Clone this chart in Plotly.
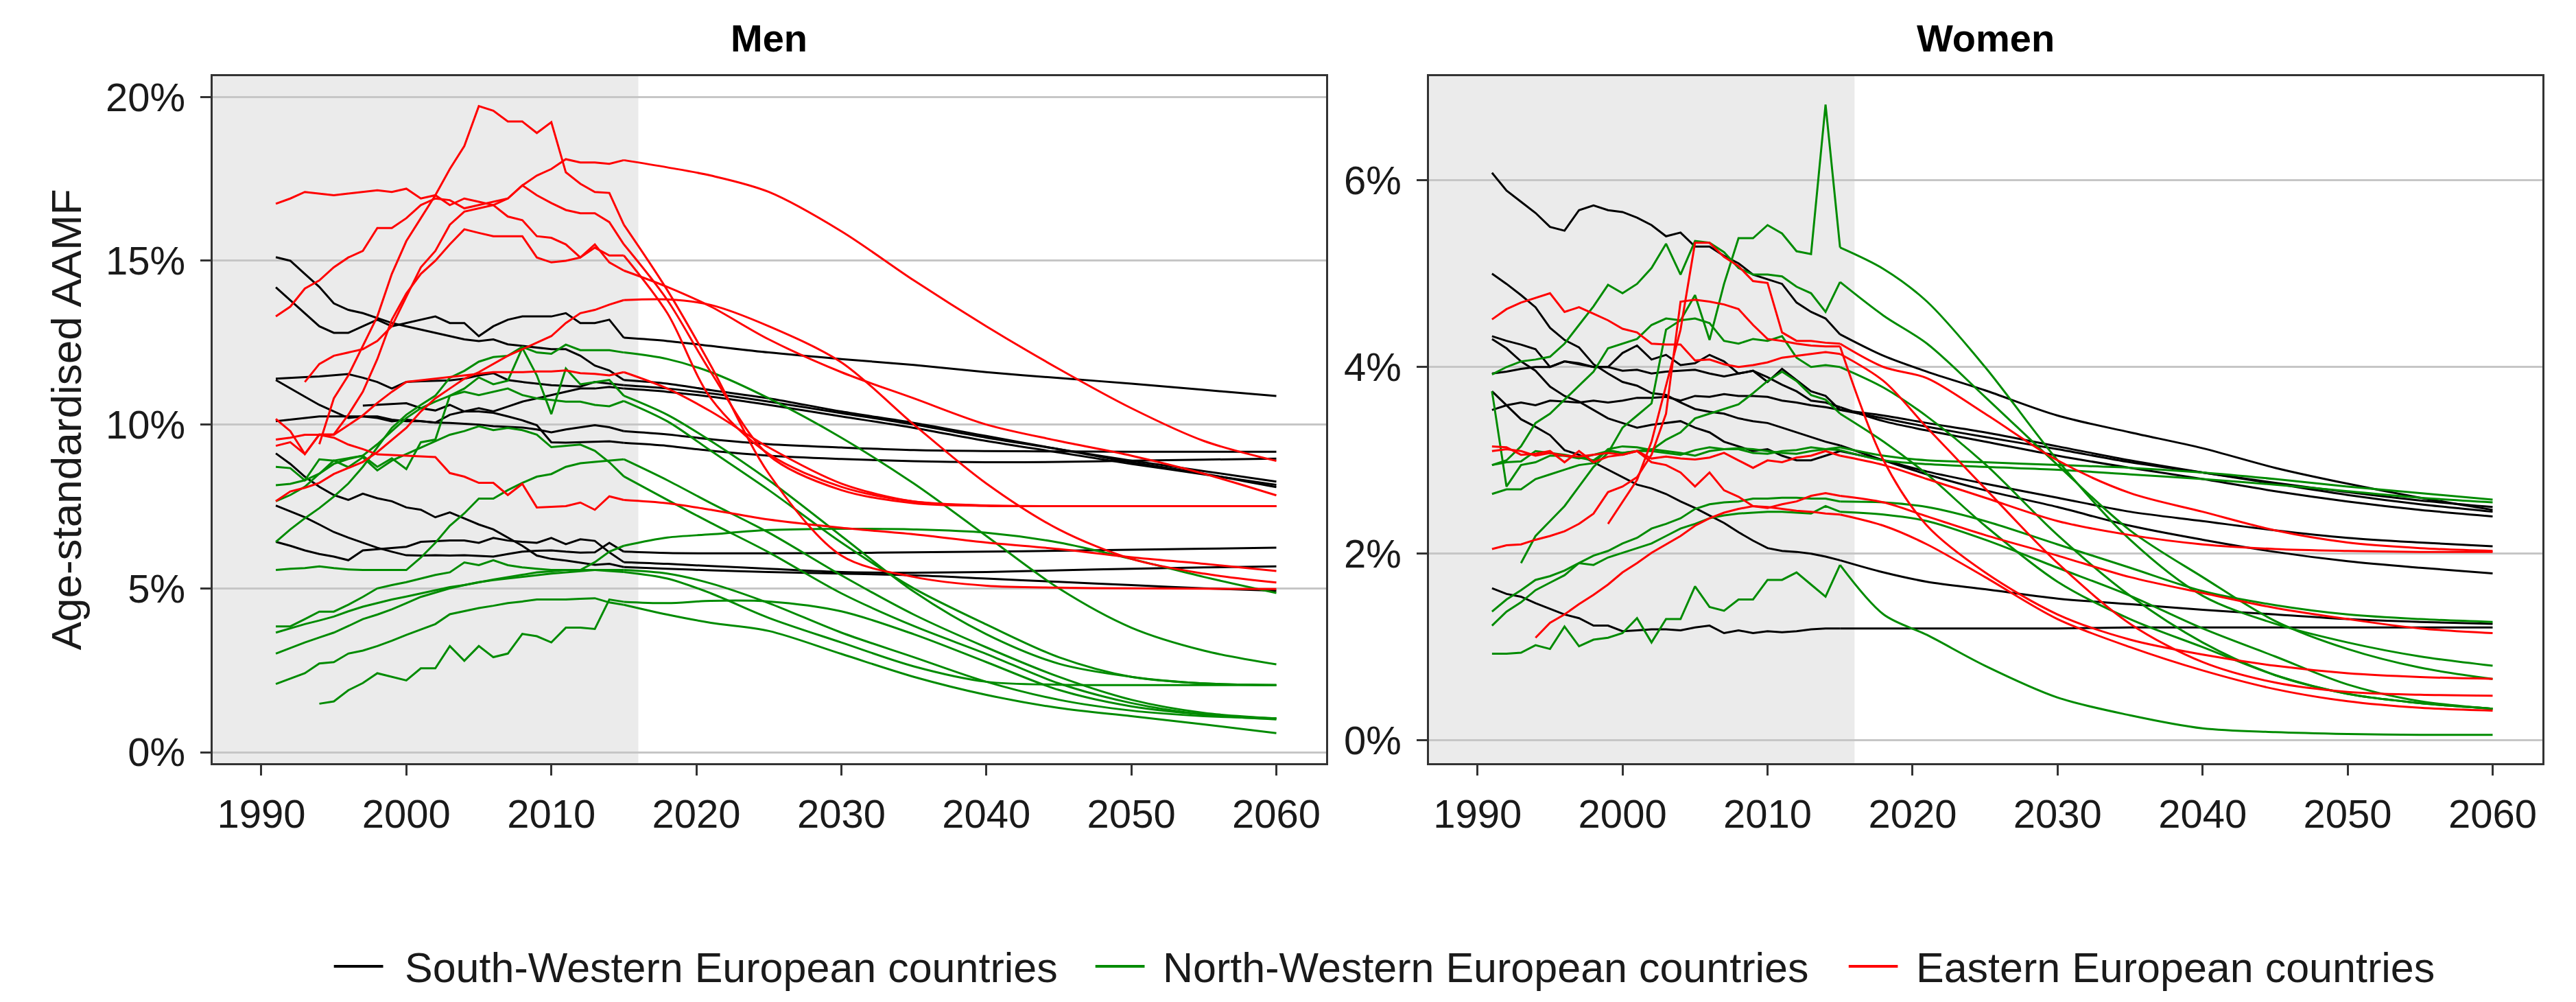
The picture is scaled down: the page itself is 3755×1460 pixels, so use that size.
import plotly.graph_objects as go

# ---------------- axes / categories ----------------
HIST_YEARS = list(range(1991, 2016))          # observed (shaded) period
PROJ_YEARS = [2018, 2021, 2025, 2030, 2035, 2040, 2045, 2050, 2055, 2060]  # projection
X_TICKS = [1990, 2000, 2010, 2020, 2030, 2040, 2050, 2060]
MEN_Y_TICKS = [0, 5, 10, 15, 20]
MEN_Y_LABELS = ["0%", "5%", "10%", "15%", "20%"]
WOMEN_Y_TICKS = [0, 2, 4, 6]
WOMEN_Y_LABELS = ["0%", "2%", "4%", "6%"]
GROUP_NAMES = ["South-Western European countries", "North-Western European countries", "Eastern European countries"]
PANEL_TITLES = ["Men", "Women"]
Y_TITLE = "Age-standardised AAMF"
N = None

# ---------------- MEN (values in %) : 25 observed values (1991-2015) + 10 projected ----------------
M_SW1 = [14.19, 13.8, 13.4, 13.0, 12.8, 12.8, 13.0, 13.2, 13.0, 13.1, 13.2, 13.3, 13.1, 13.1, 12.7, 13.0, 13.2, 13.3, 13.3, 13.3, 13.4, 13.1, 13.1, 13.2, 12.65,
         12.55, 12.4, 12.2, 12.0, 11.82, 11.6, 11.42, 11.25, 11.06, 10.87]
M_SW2 = [15.11, 15.0, 14.6, 14.2, 13.7, 13.5, 13.4, 13.25, 13.1, 13.0, 12.9, 12.8, 12.7, 12.6, 12.55, 12.6, 12.45, 12.4, 12.35, 12.3, 12.3, 12.1, 11.8, 11.65, 11.36,
         11.25, 11.05, 10.8, 10.4, 10.05, 9.65, 9.25, 8.85, 8.5, 8.09]
M_SW3 = [11.4, 11.43, 11.45, 11.47, 11.5, 11.54, 11.43, 11.3, 11.1, 11.3, 11.32, 11.33, 11.35, 11.4, 11.5, 11.57, 11.36, 11.3, 11.25, 11.2, 11.18, 11.16, 11.3, 11.25, 11.2,
         11.1, 10.95, 10.7, 10.35, 10.0, 9.6, 9.25, 8.9, 8.58, 8.26]
M_SW4 = [N, N, N, N, N, N, 10.58, 10.6, 10.62, 10.65, 10.5, 10.43, 10.6, 10.4, 10.5, 10.4, 10.55, 10.7, 10.8, 10.9, 11.0, 11.1, 11.1, 11.15, 11.1,
         11.0, 10.85, 10.6, 10.25, 9.9, 9.5, 9.15, 8.8, 8.48, 8.16]
M_SW5 = [11.36, 11.1, 10.85, 10.6, 10.4, 10.2, 10.25, 10.25, 10.15, 10.1, 10.1, 10.06, 10.05, 10.02, 10.0, 9.95, 9.93, 9.91, 9.85, 9.76, 9.85, 9.91, 9.98, 9.92, 9.8,
         9.7, 9.55, 9.4, 9.3, 9.22, 9.19, 9.18, 9.17, 9.17, 9.17]
M_SW6 = [10.1, 10.15, 10.2, 10.25, 10.25, 10.25, 10.25, 10.2, 10.1, 10.15, 10.1, 10.06, 10.3, 10.4, 10.4, 10.36, 10.25, 10.13, 9.98, 9.46, 9.45, 9.46, 9.48, 9.49, 9.44,
         9.35, 9.2, 9.05, 8.95, 8.88, 8.85, 8.86, 8.9, 8.93, 8.96]
M_SW7 = [9.12, 8.8, 8.41, 8.1, 7.85, 7.7, 7.89, 7.75, 7.66, 7.47, 7.4, 7.17, 7.32, 7.14, 6.95, 6.8, 6.55, 6.3, 6.0, 5.9, 5.85, 5.79, 5.72, 5.75, 5.65,
         5.6, 5.55, 5.5, 5.45, 5.4, 5.3, 5.2, 5.1, 5.0, 4.93]
M_SW8 = [7.53, 7.35, 7.17, 6.95, 6.72, 6.55, 6.39, 6.24, 6.12, 6.01, 6.0, 6.01, 6.0, 6.01, 5.99, 5.97, 6.05, 6.12, 6.15, 6.16, 6.12, 6.09, 6.1, 6.39, 6.12,
         6.08, 6.07, 6.07, 6.08, 6.1, 6.12, 6.15, 6.18, 6.21, 6.24]
M_SW9 = [6.42, 6.3, 6.16, 6.05, 5.97, 5.86, 6.16, 6.2, 6.24, 6.27, 6.42, 6.44, 6.46, 6.46, 6.39, 6.54, 6.46, 6.42, 6.39, 6.54, 6.35, 6.5, 6.45, 6.1, 5.8,
         5.75, 5.68, 5.6, 5.5, 5.48, 5.5, 5.55, 5.6, 5.64, 5.67]

M_NW1 = [6.42, 6.8, 7.14, 7.45, 7.8, 8.2, 8.71, 9.3, 9.9, 10.3, 10.6, 10.88, 11.43, 11.64, 11.92, 12.06, 12.1, 12.37, 12.2, 12.16, 12.44, 12.27, 12.27, 12.27, 12.2,
         12.0, 11.6, 10.8, 9.6, 8.2, 6.6, 5.0, 3.8, 3.1, 2.68]
M_NW2 = [8.71, 8.67, 8.3, 8.94, 8.9, 8.97, 9.05, 8.71, 8.97, 8.64, 9.46, 9.54, 10.88, 11.1, 11.44, 11.23, 11.34, 12.34, 11.5, 10.32, 11.71, 11.23, 11.3, 11.36, 10.88,
         10.3, 9.5, 8.3, 6.6, 4.9, 3.6, 2.7, 2.3, 2.1, 2.05]
M_NW3 = [7.66, 7.85, 8.1, 8.5, 8.8, 8.95, 9.05, 9.4, 9.8, 10.2, 10.5, 10.7, 10.88, 11.0, 10.9, 11.0, 11.1, 10.9, 10.8, 10.75, 10.7, 10.7, 10.6, 10.56, 10.72,
         10.1, 9.2, 8.0, 6.4, 5.0, 3.9, 2.9, 2.3, 2.1, 2.05]
M_NW4 = [5.56, 5.6, 5.62, 5.67, 5.62, 5.58, 5.56, 5.56, 5.56, 5.56, 5.94, 6.39, 6.91, 7.29, 7.74, 7.74, 8.0, 8.22, 8.41, 8.49, 8.71, 8.82, 8.86, 8.9, 8.94,
         8.3, 7.6, 6.7, 5.4, 4.2, 3.2, 2.3, 1.6, 1.2, 1.03]
M_NW5 = [8.15, 8.19, 8.3, 8.5, 8.9, 8.7, 9.0, 8.6, 8.9, 9.1, 9.3, 9.5, 9.69, 9.8, 9.95, 9.83, 9.9, 9.83, 9.69, 9.31, 9.35, 9.39, 9.2, 8.85, 8.42,
         7.7, 7.0, 6.1, 4.85, 3.85, 3.0, 2.1, 1.5, 1.15, 1.0]
M_NW6 = [3.84, 3.84, 4.06, 4.29, 4.29, 4.5, 4.74, 5.0, 5.1, 5.19, 5.3, 5.41, 5.49, 5.79, 5.71, 5.86, 5.71, 5.64, 5.6, 5.56, 5.56, 5.56, 5.8, 6.12, 6.3,
         6.55, 6.65, 6.78, 6.82, 6.8, 6.7, 6.4, 5.9, 5.35, 4.86]
M_NW7 = [3.65, 3.78, 3.91, 4.02, 4.14, 4.3, 4.44, 4.55, 4.66, 4.75, 4.85, 4.95, 5.04, 5.1, 5.19, 5.25, 5.3, 5.35, 5.41, 5.45, 5.49, 5.52, 5.56, 5.56, 5.56,
         5.45, 5.15, 4.55, 3.65, 2.9, 2.15, 1.6, 1.27, 1.1, 1.03]
M_NW8 = [3.01, 3.18, 3.35, 3.5, 3.65, 3.85, 4.06, 4.2, 4.36, 4.55, 4.74, 4.87, 5.0, 5.1, 5.19, 5.27, 5.34, 5.42, 5.49, 5.52, 5.56, 5.56, 5.56, 5.53, 5.5,
         5.3, 4.85, 4.1, 3.35, 2.62, 2.15, 2.06, 2.05, 2.05, 2.05]
M_NW9 = [2.08, 2.25, 2.41, 2.71, 2.75, 3.01, 3.1, 3.24, 3.4, 3.58, 3.75, 3.91, 4.21, 4.3, 4.4, 4.47, 4.55, 4.6, 4.66, 4.66, 4.66, 4.68, 4.7, 4.57, 4.5,
         4.2, 3.95, 3.7, 3.0, 2.3, 1.75, 1.35, 1.1, 0.85, 0.58]
M_NW10 = [N, N, N, 1.48, 1.55, 1.89, 2.11, 2.41, 2.3, 2.19, 2.56, 2.56, 3.24, 2.79, 3.24, 2.9, 3.01, 3.61, 3.54, 3.35, 3.8, 3.8, 3.76, 4.66, 4.59,
          4.55, 4.62, 4.6, 4.3, 3.6, 2.75, 1.9, 1.4, 1.15, 1.03]

M_E1 = [16.74, 16.9, 17.1, 17.05, 17.0, 17.05, 17.1, 17.15, 17.1, 17.2, 16.9, 17.0, 16.7, 16.9, 16.8, 16.7, 16.35, 16.24, 15.75, 15.7, 15.5, 15.1, 15.4, 15.16, 15.16,
        13.4, 10.8, 9.1, 8.1, 7.65, 7.53, 7.51, 7.51, 7.51, 7.51]
M_E2 = [13.3, 13.6, 14.15, 14.4, 14.8, 15.1, 15.3, 16.0, 16.0, 16.3, 16.7, 16.9, 16.85, 16.6, 16.7, 16.8, 16.9, 17.3, 17.0, 16.76, 16.55, 16.45, 16.45, 16.18, 15.5,
        13.8, 11.6, 9.06, 8.0, 7.6, 7.52, 7.51, 7.51, 7.51, 7.51]
M_E3 = [N, N, N, 9.4, 10.8, 11.5, 12.4, 13.3, 14.6, 15.6, 16.3, 17.0, 17.8, 18.5, 19.72, 19.58, 19.25, 19.25, 18.9, 19.23, 17.7, 17.35, 17.1, 17.07, 16.1,
        14.1, 11.8, 8.5, 6.0, 5.35, 5.08, 5.02, 5.0, 4.99, 4.98]
M_E4 = [N, N, 11.3, 11.85, 12.1, 12.2, 12.3, 12.55, 13.0, 13.9, 14.8, 15.3, 16.1, 16.5, 16.6, 16.7, 16.9, 17.3, 17.6, 17.8, 18.1, 18.0, 18.0, 17.96, 18.07,
        17.85, 17.6, 17.1, 15.9, 14.4, 13.0, 11.7, 10.5, 9.5, 8.89]
M_E5 = [10.17, 9.8, 9.1, 9.7, 9.7, 10.3, 11.0, 12.0, 13.2, 14.0, 14.6, 15.0, 15.5, 15.96, 15.85, 15.75, 15.75, 15.75, 15.1, 14.95, 15.0, 15.1, 15.5, 14.95, 14.7,
        14.2, 13.6, 12.6, 11.6, 10.8, 10.0, 9.5, 9.05, 8.5, 7.84]
M_E6 = [7.66, 7.96, 8.07, 8.22, 8.49, 8.67, 8.86, 9.16, 9.54, 9.9, 10.4, 10.8, 11.1, 11.4, 11.6, 11.85, 12.1, 12.3, 12.5, 12.7, 13.1, 13.4, 13.5, 13.66, 13.8,
        13.82, 13.65, 13.0, 11.9, 10.0, 8.2, 6.8, 5.9, 5.45, 5.18]
M_E7 = [9.54, 9.6, 9.69, 9.69, 9.69, 9.98, 10.28, 10.66, 11.0, 11.3, 11.35, 11.4, 11.45, 11.5, 11.55, 11.6, 11.6, 11.6, 11.62, 11.62, 11.65, 11.57, 11.55, 11.5, 11.6,
        11.1, 10.4, 9.3, 8.2, 7.65, 7.52, 7.51, 7.51, 7.51, 7.51]
M_E8 = [9.35, 9.46, 9.1, 9.69, 9.6, 9.39, 9.25, 9.09, 9.07, 9.05, 9.03, 9.01, 8.52, 8.41, 8.22, 8.22, 7.85, 8.19, 7.47, 7.49, 7.51, 7.62, 7.4, 7.81, 7.7,
        7.6, 7.4, 7.1, 6.85, 6.65, 6.4, 6.2, 5.95, 5.75, 5.53]

# ---------------- WOMEN (values in %) ----------------
W_SW1 = [6.08, 5.89, 5.77, 5.65, 5.5, 5.46, 5.68, 5.73, 5.68, 5.66, 5.6, 5.52, 5.4, 5.44, 5.29, 5.29, 5.19, 5.11, 4.99, 4.94, 4.89, 4.69, 4.59, 4.52, 4.35,
         4.12, 3.95, 3.75, 3.48, 3.3, 3.13, 2.92, 2.75, 2.6, 2.47]
W_SW2 = [5.0, 4.89, 4.77, 4.64, 4.42, 4.29, 4.21, 4.03, 3.93, 3.84, 3.8, 3.72, 3.7, 3.62, 3.55, 3.52, 3.5, 3.45, 3.42, 3.4, 3.35, 3.3, 3.25, 3.2, 3.16,
         3.0, 2.85, 2.68, 2.5, 2.3, 2.15, 2.02, 1.92, 1.85, 1.79]
W_SW3 = [4.33, 4.28, 4.24, 4.19, 4.0, 4.06, 4.04, 4.0, 4.0, 4.15, 4.23, 4.08, 4.13, 4.02, 4.04, 4.13, 4.06, 3.93, 3.96, 3.84, 3.98, 3.86, 3.74, 3.69, 3.54,
         3.45, 3.36, 3.25, 3.12, 2.98, 2.87, 2.76, 2.66, 2.57, 2.5]
W_SW4 = [4.3, 4.2, 4.06, 3.96, 3.79, 3.69, 3.63, 3.54, 3.45, 3.4, 3.35, 3.38, 3.4, 3.42, 3.35, 3.3, 3.2, 3.15, 3.1, 3.12, 3.05, 3.0, 3.0, 3.05, 3.1,
         3.0, 2.88, 2.75, 2.6, 2.45, 2.35, 2.25, 2.17, 2.12, 2.08]
W_SW5 = [3.93, 3.95, 3.98, 4.0, 4.0, 4.06, 4.03, 4.0, 4.0, 3.96, 3.97, 3.93, 3.95, 3.96, 3.97, 3.93, 3.9, 3.93, 3.96, 3.89, 3.81, 3.74, 3.64, 3.62, 3.57,
         3.42, 3.32, 3.2, 3.05, 2.92, 2.8, 2.67, 2.56, 2.47, 2.4]
W_SW6 = [3.54, 3.59, 3.62, 3.59, 3.64, 3.63, 3.62, 3.64, 3.62, 3.64, 3.67, 3.67, 3.68, 3.64, 3.69, 3.68, 3.71, 3.69, 3.69, 3.68, 3.64, 3.62, 3.59, 3.57, 3.54,
         3.48, 3.4, 3.3, 3.15, 3.0, 2.87, 2.75, 2.63, 2.53, 2.45]
W_SW7 = [3.74, 3.59, 3.44, 3.36, 3.27, 3.11, 3.06, 2.98, 2.9, 2.82, 2.74, 2.7, 2.64, 2.56, 2.49, 2.41, 2.33, 2.23, 2.14, 2.06, 2.03, 2.02, 2.0, 1.97, 1.93,
         1.8, 1.7, 1.62, 1.52, 1.46, 1.4, 1.35, 1.3, 1.27, 1.25]
W_SW8 = [1.63, 1.57, 1.54, 1.47, 1.41, 1.35, 1.31, 1.23, 1.23, 1.17, 1.18, 1.19, 1.19, 1.18, 1.21, 1.23, 1.15, 1.18, 1.15, 1.17, 1.16, 1.17, 1.19, 1.2, 1.2,
         1.2, 1.2, 1.2, 1.2, 1.21, 1.21, 1.21, 1.21, 1.21, 1.21]

W_NW1 = [N, N, 1.9, 2.19, 2.35, 2.51, 2.72, 2.93, 3.08, 3.35, 3.48, 3.61, 4.4, 4.5, 4.77, 4.29, 4.89, 5.38, 5.38, 5.52, 5.43, 5.24, 5.21, 6.81, 5.28,
         5.05, 4.7, 4.0, 3.0, 2.15, 1.55, 1.25, 1.05, 0.9, 0.8]
W_NW2 = [3.92, 4.0, 4.06, 4.08, 4.11, 4.25, 4.45, 4.65, 4.88, 4.79, 4.89, 5.06, 5.32, 4.99, 5.35, 5.33, 5.23, 5.06, 4.99, 4.99, 4.97, 4.86, 4.79, 4.59, 4.91,
         4.55, 4.25, 3.68, 2.95, 2.25, 1.75, 1.28, 0.98, 0.78, 0.66]
W_NW3 = [1.38, 1.51, 1.61, 1.72, 1.76, 1.82, 1.9, 1.98, 2.03, 2.11, 2.17, 2.27, 2.32, 2.38, 2.48, 2.53, 2.55, 2.56, 2.59, 2.59, 2.6, 2.6, 2.59, 2.59, 2.56,
         2.55, 2.5, 2.35, 2.1, 1.85, 1.6, 1.45, 1.35, 1.3, 1.27]
W_NW4 = [1.23, 1.38, 1.48, 1.61, 1.69, 1.77, 1.9, 1.88, 1.96, 2.01, 2.06, 2.11, 2.19, 2.27, 2.32, 2.38, 2.41, 2.43, 2.44, 2.45, 2.45, 2.44, 2.43, 2.51, 2.45,
         2.42, 2.35, 2.15, 1.85, 1.55, 1.2, 0.9, 0.6, 0.42, 0.34]
W_NW5 = [0.93, 0.93, 0.94, 1.02, 0.98, 1.22, 1.01, 1.08, 1.1, 1.15, 1.31, 1.05, 1.3, 1.3, 1.65, 1.43, 1.39, 1.51, 1.51, 1.72, 1.72, 1.8, 1.67, 1.54, 1.88,
         1.35, 1.13, 0.8, 0.46, 0.27, 0.13, 0.09, 0.07, 0.06, 0.06]
W_NW6 = [3.74, 2.72, 2.95, 2.98, 3.05, 3.05, 3.02, 3.06, 3.1, 3.08, 3.1, 3.12, 3.1, 3.08, 3.05, 3.1, 3.12, 3.13, 3.12, 3.1, 3.08, 3.07, 3.1, 3.12, 3.14,
         3.05, 3.0, 2.98, 2.95, 2.92, 2.87, 2.8, 2.72, 2.65, 2.58]
W_NW7 = [2.95, 2.98, 2.99, 3.1, 3.08, 3.06, 3.03, 3.0, 3.11, 3.08, 3.1, 3.1, 3.08, 3.06, 3.11, 3.14, 3.12, 3.12, 3.08, 3.07, 3.1, 3.11, 3.14, 3.12, 3.11,
         3.0, 2.96, 2.93, 2.9, 2.85, 2.8, 2.74, 2.67, 2.6, 2.55]
W_NW8 = [2.95, 3.0, 3.15, 3.4, 3.5, 3.65, 3.8, 3.95, 4.2, 4.25, 4.3, 4.45, 4.52, 4.5, 4.52, 4.47, 4.28, 4.25, 4.3, 4.28, 4.33, 4.1, 4.0, 4.02, 4.0,
         3.78, 3.47, 2.96, 2.2, 1.55, 1.05, 0.7, 0.5, 0.4, 0.34]
W_NW9 = [2.64, 2.69, 2.69, 2.8, 2.85, 2.9, 2.95, 2.97, 3.12, 3.15, 3.14, 3.11, 3.22, 3.3, 3.45, 3.5, 3.55, 3.6, 3.72, 3.85, 3.95, 3.85, 3.7, 3.65, 3.5,
         3.2, 2.85, 2.3, 1.7, 1.3, 1.0, 0.7, 0.5, 0.4, 0.34]

W_E1 = [4.51, 4.62, 4.69, 4.74, 4.79, 4.59, 4.64, 4.57, 4.5, 4.41, 4.37, 4.25, 4.24, 4.24, 4.07, 4.08, 4.03, 4.0, 4.02, 4.05, 4.1, 4.12, 4.14, 4.16, 4.14,
        3.85, 3.35, 2.7, 1.9, 1.25, 0.84, 0.62, 0.52, 0.49, 0.48]
W_E2 = [N, N, N, N, N, N, N, N, 2.32, 2.56, 2.79, 3.2, 3.8, 4.4, 5.33, 5.33, 5.18, 5.08, 4.92, 4.9, 4.37, 4.28, 4.28, 4.26, 4.25,
        4.0, 3.88, 3.5, 3.0, 2.65, 2.45, 2.25, 2.12, 2.06, 2.03]
W_E3 = [2.05, 2.09, 2.1, 2.15, 2.19, 2.24, 2.32, 2.43, 2.66, 2.72, 2.82, 3.06, 3.5, 4.7, 4.72, 4.7, 4.67, 4.62, 4.45, 4.3, 4.28, 4.25, 4.23, 4.22, 4.22,
        3.0, 2.3, 1.8, 1.35, 1.08, 0.92, 0.8, 0.72, 0.68, 0.66]
W_E4 = [3.15, 3.14, 3.06, 3.07, 3.1, 2.98, 3.1, 2.98, 3.04, 3.06, 3.1, 2.98, 2.95, 2.87, 2.72, 2.87, 2.68, 2.61, 2.51, 2.5, 2.48, 2.46, 2.45, 2.43, 2.42,
        2.3, 2.1, 1.75, 1.3, 1.0, 0.75, 0.55, 0.42, 0.35, 0.32]
W_E5 = [3.1, 3.12, 3.1, 3.05, 3.08, 3.05, 3.04, 3.06, 3.08, 3.06, 3.1, 3.02, 3.04, 3.02, 3.01, 3.03, 3.08, 3.0, 2.92, 3.0, 2.98, 3.03, 3.05, 3.1, 3.05,
        2.95, 2.8, 2.6, 2.35, 2.2, 2.1, 2.05, 2.03, 2.02, 2.02]
W_E6 = [N, N, N, 1.1, 1.26, 1.35, 1.46, 1.56, 1.67, 1.8, 1.9, 2.01, 2.1, 2.19, 2.3, 2.38, 2.44, 2.48, 2.51, 2.49, 2.53, 2.56, 2.62, 2.65, 2.62,
        2.55, 2.4, 2.2, 1.98, 1.75, 1.58, 1.42, 1.3, 1.2, 1.15]

MEN_SW = [M_SW1, M_SW2, M_SW3, M_SW4, M_SW5, M_SW6, M_SW7, M_SW8, M_SW9]
MEN_NW = [M_NW1, M_NW2, M_NW3, M_NW4, M_NW5, M_NW6, M_NW7, M_NW8, M_NW9, M_NW10]
MEN_E = [M_E1, M_E2, M_E3, M_E4, M_E5, M_E6, M_E7, M_E8]
WOMEN_SW = [W_SW1, W_SW2, W_SW3, W_SW4, W_SW5, W_SW6, W_SW7, W_SW8]
WOMEN_NW = [W_NW1, W_NW2, W_NW3, W_NW4, W_NW5, W_NW6, W_NW7, W_NW8, W_NW9]
WOMEN_E = [W_E1, W_E2, W_E3, W_E4, W_E5, W_E6]

# ---------------- styling ----------------
COLORS = ["#000000", "#008B00", "#FF0000"]
FONT = "Liberation Sans, Arial, Helvetica, sans-serif"
W, H = 3755, 1460
X_RANGE = [1986.63, 2063.43]
SHADE_END = 2016
X1_DOM = [301.7 / W, 1925 / W]
X2_DOM = [2074.5 / W, 3698 / W]
Y_DOM = [(H - 1104) / H, (H - 102.7) / H]
# legend layout (pixel positions of key start, key end, text start)
LEG_KEYS = [(478.7, 550.5, 580.0), (1588.7, 1660.5, 1685.0), (2686.8, 2758.4, 2783.0)]
LEG_Y = 1400

fig = go.Figure()


def add_series(series, gi, xa, ya):
    hist = series[:len(HIST_YEARS)]
    proj = series[len(HIST_YEARS):]
    fig.add_trace(go.Scatter(x=HIST_YEARS, y=hist, mode="lines", line=dict(color=COLORS[gi], width=3),
                             xaxis=xa, yaxis=ya, name=GROUP_NAMES[gi],
                             legendgroup=GROUP_NAMES[gi], showlegend=False,
                             hoverinfo="skip"))
    fig.add_trace(go.Scatter(x=[HIST_YEARS[-1]] + PROJ_YEARS, y=[hist[-1]] + proj, mode="lines",
                             line=dict(color=COLORS[gi], width=3, shape="spline", smoothing=0.9),
                             xaxis=xa, yaxis=ya, name=GROUP_NAMES[gi],
                             legendgroup=GROUP_NAMES[gi], showlegend=False,
                             hoverinfo="skip"))


for gi, group in enumerate([MEN_SW, MEN_NW, MEN_E]):
    for s in group:
        add_series(s, gi, "x", "y")
for gi, group in enumerate([WOMEN_SW, WOMEN_NW, WOMEN_E]):
    for s in group:
        add_series(s, gi, "x2", "y2")

axis_common = dict(showline=True, mirror=True, linecolor="#333333", linewidth=3,
                   ticks="outside", ticklen=15, tickwidth=3, tickcolor="#333333",
                   tickfont=dict(family=FONT, size=58, color="#1a1a1a"),
                   automargin=False, zeroline=False)

fig.update_layout(
    width=W, height=H,
    margin=dict(l=0, r=0, t=0, b=0),
    paper_bgcolor="white", plot_bgcolor="white",
    font=dict(family=FONT, size=58, color="#1a1a1a"),
    showlegend=False,
    xaxis=dict(domain=X1_DOM, range=X_RANGE, tickvals=X_TICKS, showgrid=False,
               anchor="y", ticklabelstandoff=6, **axis_common),
    xaxis2=dict(domain=X2_DOM, range=X_RANGE, tickvals=X_TICKS, showgrid=False,
                anchor="y2", ticklabelstandoff=6, **axis_common),
    yaxis=dict(domain=Y_DOM, range=[-0.335, 20.64], tickmode="array", tickvals=MEN_Y_TICKS,
               ticktext=MEN_Y_LABELS,
               showgrid=True, gridcolor="#C6C6C6", gridwidth=3, anchor="x",
               ticklabelstandoff=10,
               title=dict(text=Y_TITLE, font=dict(family=FONT, size=62, color="#1a1a1a"), standoff=16),
               **axis_common),
    yaxis2=dict(domain=Y_DOM, range=[-0.243, 7.117], tickmode="array", tickvals=WOMEN_Y_TICKS,
                ticktext=WOMEN_Y_LABELS,
                showgrid=True, gridcolor="#C6C6C6", gridwidth=3, anchor="x2",
                ticklabelstandoff=10, **axis_common),
)

# shaded observed period
for xr in ["x", "x2"]:
    fig.add_shape(type="rect", xref=xr, yref=("y" if xr == "x" else "y2") + " domain",
                  x0=X_RANGE[0], x1=SHADE_END, y0=0, y1=1,
                  fillcolor="#EBEBEB", line=dict(width=0), layer="below")

# panel titles
for title, dom in zip(PANEL_TITLES, [X1_DOM, X2_DOM]):
    fig.add_annotation(text="<b>" + title + "</b>", x=(dom[0] + dom[1]) / 2, y=(H - 48) / H,
                       xref="paper", yref="paper", showarrow=False, xanchor="center", yanchor="middle",
                       font=dict(family=FONT, size=56, color="#000000"))

# legend (keys drawn as line segments, labels as text)
for gi, (k0, k1, t0) in enumerate(LEG_KEYS):
    fig.add_shape(type="line", xref="paper", yref="paper",
                  x0=k0 / W, x1=k1 / W, y0=(H - LEG_Y) / H, y1=(H - LEG_Y) / H,
                  line=dict(color=COLORS[gi], width=4))
    fig.add_annotation(text=GROUP_NAMES[gi], x=t0 / W, y=(H - LEG_Y - 2) / H,
                       xref="paper", yref="paper", showarrow=False, xanchor="left", yanchor="middle",
                       font=dict(family=FONT, size=61, color="#1a1a1a"))

fig.write_html("out.html")
